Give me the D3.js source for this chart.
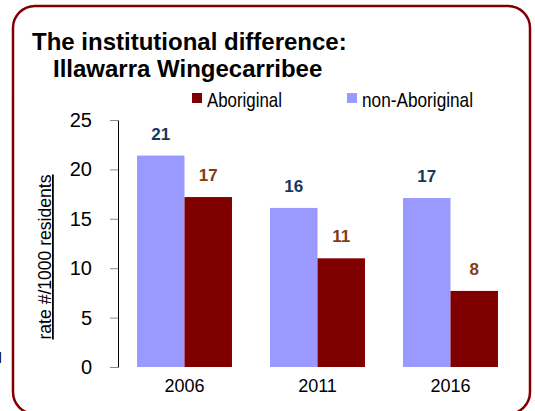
<!DOCTYPE html>
<html>
<head>
<meta charset="utf-8" />
<title>The institutional difference</title>
<script src="https://d3js.org/d3.v7.min.js"></script>
<style>
  body { margin: 0; background: #fff; }
  text { font-family: "Liberation Sans", Arial, sans-serif; }
  .tick line { stroke: #888; }
  .domain { stroke: #000; }
</style>
</head>
<body>
<script>
// data
var years = ["2006", "2011", "2016"];
var series = ["non-Aboriginal", "Aboriginal"];
var nonAboriginal = [21.4, 16.1, 17.1];
var aboriginal = [17.2, 11.0, 7.7];
var nonAboriginalLabels = ["21", "16", "17"];
var aboriginalLabels = ["17", "11", "8"];
var yTicks = [0, 5, 10, 15, 20, 25];

var barColor = { "non-Aboriginal": "#9999ff", "Aboriginal": "#800000" };
var labelColor = { "non-Aboriginal": "#17365d", "Aboriginal": "#843c0c" };

var W = 535, H = 411;
var svg = d3.select("body").append("svg")
  .attr("width", W).attr("height", H);

// rounded frame
svg.append("rect")
  .attr("x", 13).attr("y", 6)
  .attr("width", 517).attr("height", 408)
  .attr("rx", 22).attr("ry", 22)
  .attr("fill", "none")
  .attr("stroke", "#800000")
  .attr("stroke-width", 2.5);

// stray bit of text peeking in from the left
svg.append("text")
  .attr("x", -6).attr("y", 363)
  .attr("font-size", 14)
  .text("d");

// title
svg.append("text")
  .attr("x", 32).attr("y", 50)
  .attr("font-size", 24).attr("font-weight", "bold")
  .text("The institutional difference:");
svg.append("text")
  .attr("x", 53).attr("y", 77)
  .attr("font-size", 24).attr("font-weight", "bold")
  .text("Illawarra Wingecarribee");

// scales
var x = d3.scaleBand().domain(years).range([118, 517])
  .paddingInner(0.286).paddingOuter(0.143);
var xs = d3.scaleBand().domain(series).range([0, x.bandwidth()]);
var y = d3.scaleLinear().domain([0, 25]).range([367, 120]);

// y axis
var yAxis = svg.append("g")
  .attr("transform", "translate(118,0)")
  .call(d3.axisLeft(y).tickValues(yTicks).tickSize(8).tickSizeOuter(0).tickPadding(18));
yAxis.selectAll(".tick text")
  .attr("font-size", 20)
  .attr("fill", "#000")
  .style("font-family", "Liberation Sans, Arial, sans-serif");

svg.append("text")
  .attr("transform", "translate(51,257) rotate(-90)")
  .attr("text-anchor", "middle")
  .attr("font-size", 18)
  .attr("textLength", 165)
  .attr("lengthAdjust", "spacingAndGlyphs")
  .style("text-decoration", "underline")
  .text("rate #/1000 residents");

// x labels
var xAxis = svg.append("g")
  .attr("transform", "translate(0,367)")
  .call(d3.axisBottom(x).tickSize(0).tickPadding(12));
xAxis.select(".domain").remove();
xAxis.selectAll(".tick text")
  .attr("font-size", 18)
  .attr("fill", "#000")
  .style("font-family", "Liberation Sans, Arial, sans-serif");

// bars
var rows = years.map(function(yr, i) {
  return [
    { year: yr, s: "non-Aboriginal", v: nonAboriginal[i], label: nonAboriginalLabels[i] },
    { year: yr, s: "Aboriginal", v: aboriginal[i], label: aboriginalLabels[i] }
  ];
});

var groups = svg.selectAll(".grp").data(rows).enter().append("g")
  .attr("class", "grp")
  .attr("transform", function(d) { return "translate(" + x(d[0].year) + ",0)"; });

groups.selectAll("rect").data(function(d) { return d; }).enter().append("rect")
  .attr("x", function(d) { return xs(d.s); })
  .attr("y", function(d) { return y(d.v); })
  .attr("width", xs.bandwidth())
  .attr("height", function(d) { return y(0) - y(d.v); })
  .attr("fill", function(d) { return barColor[d.s]; });

groups.selectAll(".val").data(function(d) { return d; }).enter().append("text")
  .attr("class", "val")
  .attr("x", function(d) { return xs(d.s) + xs.bandwidth() / 2; })
  .attr("y", function(d) { return y(d.v) - 16; })
  .attr("text-anchor", "middle")
  .attr("font-size", 17).attr("font-weight", "bold")
  .attr("fill", function(d) { return labelColor[d.s]; })
  .text(function(d) { return d.label; });

// legend
var legendItems = [
  { s: "Aboriginal", x: 192, len: 75 },
  { s: "non-Aboriginal", x: 347, len: 111 }
];
var lg = svg.selectAll(".lg").data(legendItems).enter().append("g")
  .attr("class", "lg")
  .attr("transform", function(d) { return "translate(" + d.x + ",93)"; });
lg.append("rect")
  .attr("width", 10).attr("height", 10)
  .attr("fill", function(d) { return barColor[d.s]; });
lg.append("text")
  .attr("x", 15).attr("y", 14)
  .attr("font-size", 21)
  .attr("textLength", function(d) { return d.len; })
  .attr("lengthAdjust", "spacingAndGlyphs")
  .text(function(d) { return d.s; });
</script>
</body>
</html>
